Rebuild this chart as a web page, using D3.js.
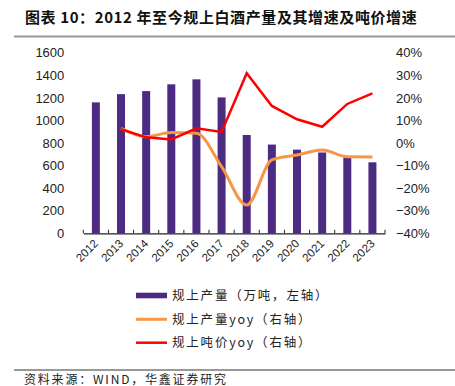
<!DOCTYPE html>
<html><head><meta charset="utf-8">
<script src="https://cdn.jsdelivr.net/npm/d3@7"></script>
<style>body{margin:0;background:#fff}svg{display:block}</style>
</head><body>
<svg id="c" width="455" height="386"></svg>
<script>
const years = ["2012","2013","2014","2015","2016","2017","2018","2019","2020","2021","2022","2023"];
const output = [1160,1233,1260,1320,1364,1204,871,786,741,716,671,629];
const outputYoy = [null,6.5,2.8,4.6,4.3,-10.5,-27.5,-7.5,-5.3,-3.1,-6.1,-6.2];
const priceYoy = [null,6.1,2.5,1.6,6.5,4.9,30.9,16.4,10.5,7.2,17.3,22.0];
const leftTicks = [0,200,400,600,800,1000,1200,1400,1600];
const rightTicks = [-40,-30,-20,-10,0,10,20,30,40];

const svg = d3.select("#c");
const font = "'Noto Sans CJK SC', 'Noto Sans', sans-serif";
const latin = "Arial, 'Liberation Sans', sans-serif";
const L = 83.3, R = 385, T = 52.7, B = 233.3;

// title
svg.append("text").attr("x",25).attr("y",23).attr("font-family",font).attr("font-weight","bold")
  .attr("font-size",15).attr("letter-spacing",0.6).attr("fill","#111").text("图表 10：2012 年至今规上白酒产量及其增速及吨价增速");
svg.append("line").attr("x1",14).attr("x2",455).attr("y1",36.5).attr("y2",36.5).attr("stroke","#999").attr("stroke-width",2);

const x = d3.scaleBand().domain(years).range([L,R]);
const yL = d3.scaleLinear().domain([0,1600]).range([B,T]);
const yR = d3.scaleLinear().domain([-40,40]).range([B,T]);

// bars
svg.append("g").selectAll("rect").data(years).join("rect")
  .attr("x",d=>x(d)+x.bandwidth()/2-4).attr("width",8)
  .attr("y",(d,i)=>yL(output[i])).attr("height",(d,i)=>B-yL(output[i]))
  .attr("fill","#4B2C82");

// x axis
const xa = svg.append("g").attr("transform",`translate(0,${B})`)
  .call(d3.axisBottom(x).tickSize(0).tickFormat(""));
xa.select(".domain").attr("stroke","#222").attr("stroke-width",1.2);
const bounds = years.map(d=>x(d)).concat([R]);
svg.append("g").selectAll("line").data(bounds).join("line")
  .attr("x1",d=>d).attr("x2",d=>d).attr("y1",B).attr("y2",B-3.5).attr("stroke","#222");
svg.append("g").selectAll("text").data(years).join("text")
  .attr("transform",d=>`translate(${x(d)+x.bandwidth()/2+3},${B+11}) rotate(-45)`)
  .attr("text-anchor","end").attr("font-family",latin).attr("font-size",11.5).attr("fill","#222")
  .text(d=>d);

// left axis
const la = svg.append("g").attr("transform",`translate(${L-19},0)`)
  .call(d3.axisLeft(yL).tickValues(leftTicks).tickSize(0).tickPadding(0).tickFormat(d3.format("d")));
la.select(".domain").remove();
la.selectAll("text").attr("font-family",latin).attr("font-size",13).attr("fill","#222");

// right axis
const ra = svg.append("g").attr("transform",`translate(396,0)`)
  .call(d3.axisRight(yR).tickValues(rightTicks).tickSize(0).tickPadding(0).tickFormat(d=>(d<0?"\u2212"+(-d):d)+"%"));
ra.select(".domain").remove();
ra.selectAll("text").attr("font-family",latin).attr("font-size",13).attr("fill","#222");

// lines
const cx = d=>x(d)+x.bandwidth()/2;
const oData = years.map((d,i)=>[d,outputYoy[i]]).filter(d=>d[1]!==null);
const pData = years.map((d,i)=>[d,priceYoy[i]]).filter(d=>d[1]!==null);
svg.append("path").datum(oData).attr("fill","none").attr("stroke","#F79646").attr("stroke-width",3)
  .attr("d",d3.line().x(d=>cx(d[0])).y(d=>yR(d[1])).curve(d3.curveMonotoneX));
svg.append("path").datum(pData).attr("fill","none").attr("stroke","#FF0000").attr("stroke-width",2.5)
  .attr("d",d3.line().x(d=>cx(d[0])).y(d=>yR(d[1])));

// legend
const lg = svg.append("g");
lg.append("rect").attr("x",136).attr("y",292.7).attr("width",31).attr("height",5.6).attr("fill","#4B2C82");
lg.append("line").attr("x1",136).attr("x2",167).attr("y1",319.3).attr("y2",319.3).attr("stroke","#F79646").attr("stroke-width",3);
lg.append("line").attr("x1",136).attr("x2",167).attr("y1",342.7).attr("y2",342.7).attr("stroke","#FF0000").attr("stroke-width",2.5);
const labels = ["规上产量（万吨，左轴）","规上产量yoy（右轴）","规上吨价yoy（右轴）"];
lg.selectAll("text").data(labels).join("text")
  .attr("x",172).attr("y",(d,i)=>[295.5,319.3,342.7][i]+4.5)
  .attr("font-family",font).attr("font-size",12.5).attr("letter-spacing",1.8).attr("fill","#222").text(d=>d);

// footer
svg.append("line").attr("x1",14).attr("x2",455).attr("y1",370).attr("y2",370).attr("stroke","#999").attr("stroke-width",2);
svg.append("text").attr("x",24).attr("y",384).attr("font-family",font).attr("font-size",12).attr("letter-spacing",1.8).attr("fill","#222")
  .text("资料来源：WIND，华鑫证券研究");
</script>
</body></html>
